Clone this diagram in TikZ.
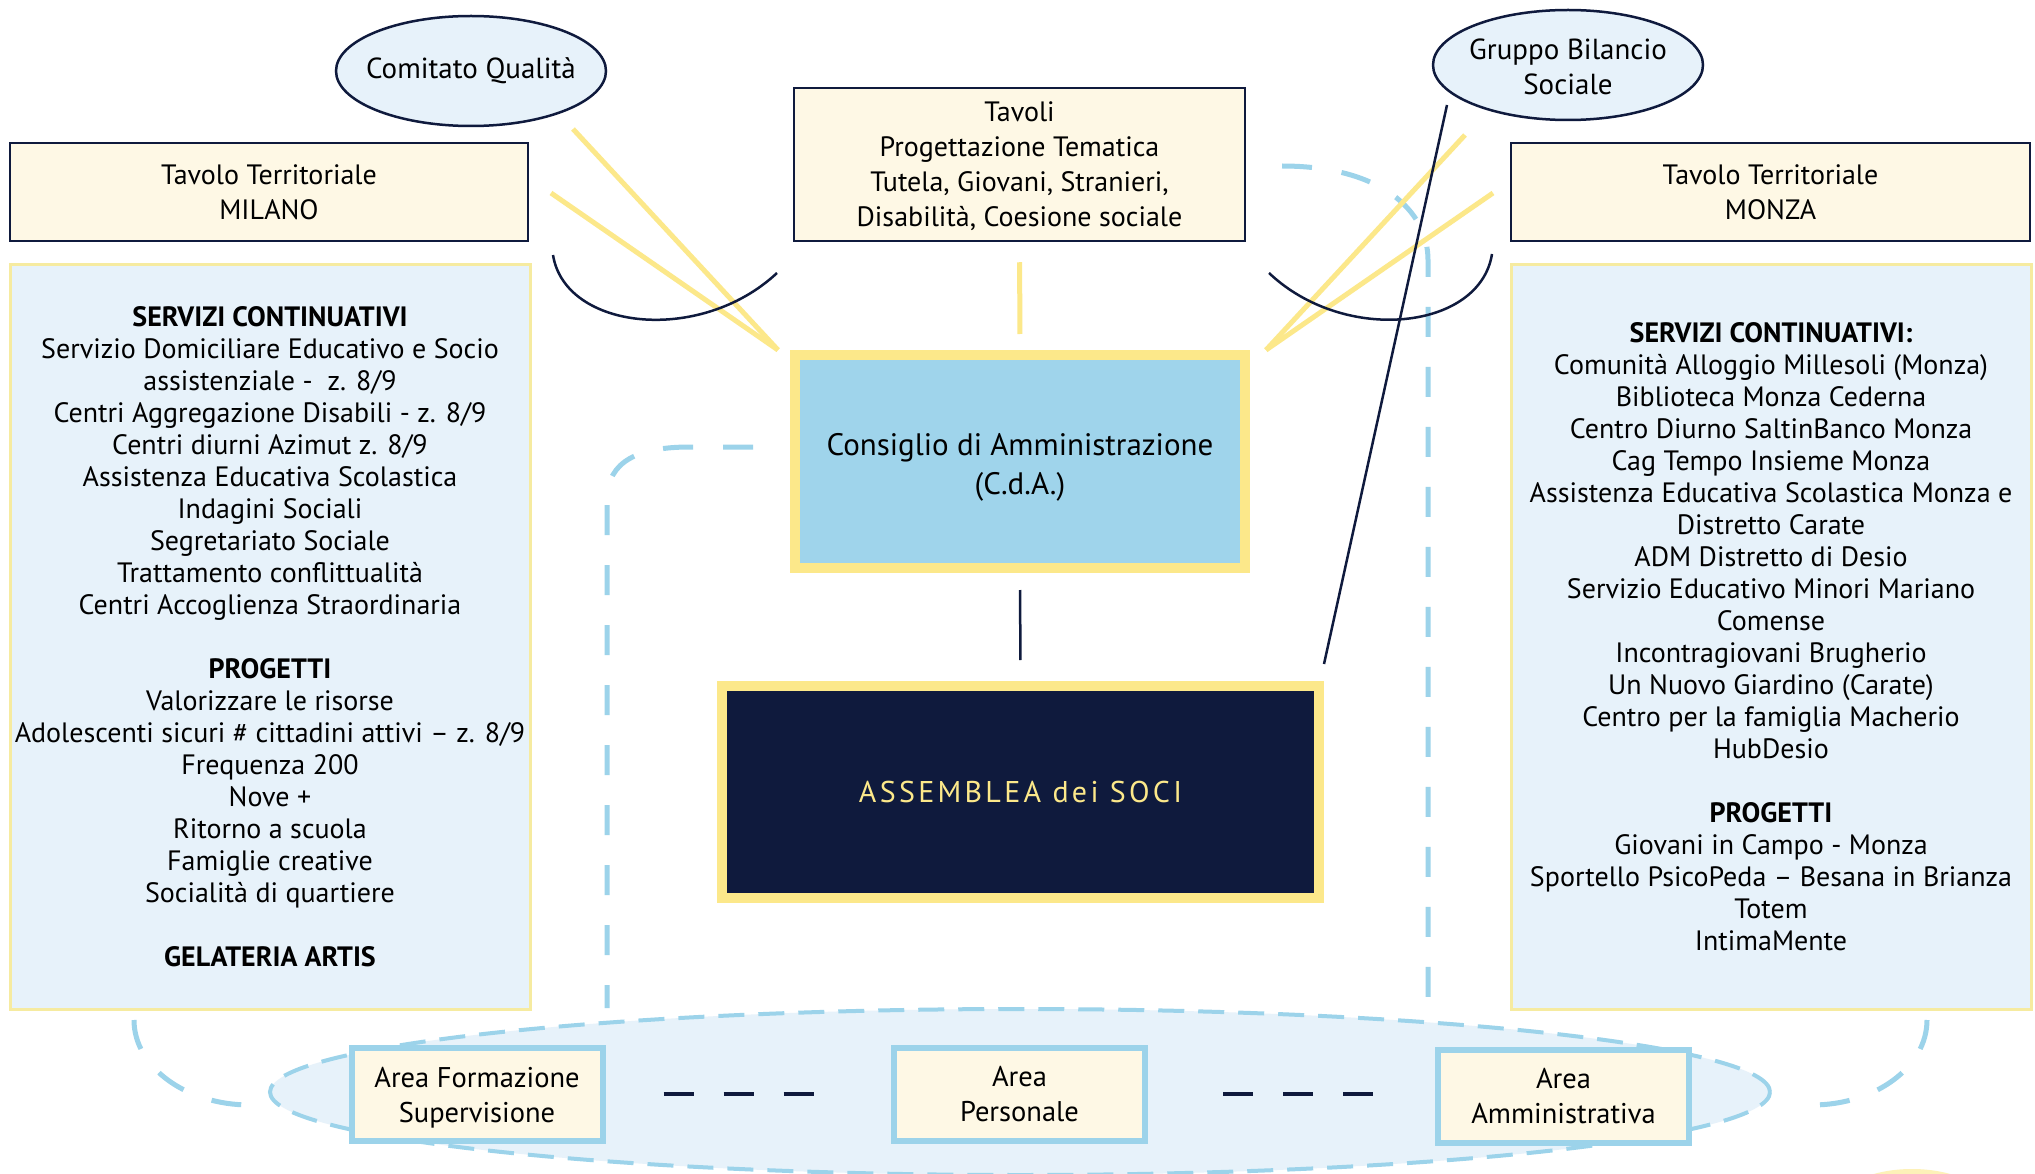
\documentclass[tikz,border=0pt]{standalone}
\usepackage{fontspec}
\setmainfont{PT Sans}
\usetikzlibrary{shapes.geometric}
\definecolor{navy}{HTML}{0F1A3D}
\definecolor{cream}{HTML}{FEF8E5}
\definecolor{lblue}{HTML}{E7F2FA}
\definecolor{cdab}{HTML}{9FD4EB}
\definecolor{ylw}{HTML}{FCE88A}
\definecolor{dblue}{HTML}{9CD3EA}
\definecolor{pyel}{HTML}{F6EBA0}
\definecolor{blob}{HTML}{FDF1B8}
\begin{document}
\begin{tikzpicture}[x=1pt,y=-1pt,
  topbox/.style={draw=navy, line width=2.5pt, fill=cream, inner sep=0pt, align=center, font=\fontsize{28}{35}\selectfont},
  listbox/.style={draw=pyel, line width=3pt, fill=lblue, inner sep=0pt, align=center, font=\fontsize{28}{32}\selectfont},
  bubble/.style={ellipse, draw=navy, line width=2.5pt, fill=lblue, inner sep=0pt, minimum width=270pt, minimum height=110pt},
  bubtext/.style={font=\fontsize{29}{35}\selectfont, align=center},
  areabox/.style={draw=dblue, line width=6pt, fill=cream, inner sep=0pt, align=center, font=\fontsize{28.5}{35}\selectfont, minimum width=251pt, minimum height=93pt},
  yline/.style={draw=ylw, line width=5pt},
  nline/.style={draw=navy, line width=2.5pt},
  bdash/.style={draw=dblue, line width=5pt, dash pattern=on 30pt off 30pt},
  ndash/.style={draw=navy, line width=4pt, dash pattern=on 30pt off 30pt}
]
\useasboundingbox (0,0) rectangle (2035,1174);
\fill[white] (0,0) rectangle (2035,1174);

% bottom decorations
\node[ellipse, fill=blob, minimum width=150pt, minimum height=72pt] (blobn) at (1912,1205) {};
\node[ellipse, draw=dblue, fill=lblue, line width=4pt, dash pattern=on 26pt off 14pt, minimum width=1500pt, minimum height=166pt] (areas) at (1020,1092) {};

% dashed blue frames
\draw[bdash] (753,447) -- (690,447) .. controls (640,447) and (607,460) .. (607,500) -- (607,1008);
\draw[bdash] (1282,166) .. controls (1380,166) and (1428,210) .. (1428,260) -- (1428,1008);
\draw[bdash] (134,1020) arc[start angle=180, end angle=90, x radius=116, y radius=85];
\draw[bdash] (1927,1020) arc[start angle=0, end angle=90, x radius=115, y radius=85];

% top nodes
\node[bubble, label={[bubtext]center:Comitato Qualità}] (cq) at (471,71) {};
\node[bubble, label={[bubtext, yshift=-2pt]center:Gruppo Bilancio\\Sociale}] (gbs) at (1568,65) {};
\node[topbox, minimum width=518pt, minimum height=98pt] (milano) at (269,192) {Tavolo Territoriale\\MILANO};
\node[topbox, minimum width=451pt, minimum height=153pt, text depth=0pt] (tavoli) at (1019.5,164.5) {Tavoli\\Progettazione Tematica\\Tutela, Giovani, Stranieri,\\Disabilità, Coesione sociale};
\node[topbox, minimum width=519pt, minimum height=98pt] (monza) at (1770.5,192) {Tavolo Territoriale\\MONZA};

% side lists
\node[listbox, minimum width=520pt, minimum height=745pt] (left) at (270,637) {\textbf{SERVIZI CONTINUATIVI}\\
Servizio Domiciliare Educativo e Socio\\
assistenziale -\ \ z. 8/9\\
Centri Aggregazione Disabili - z. 8/9\\
Centri diurni Azimut z. 8/9\\
Assistenza Educativa Scolastica\\
Indagini Sociali\\
Segretariato Sociale\\
Trattamento conflittualità\\
Centri Accoglienza Straordinaria\\[32pt]
\textbf{PROGETTI}\\
Valorizzare le risorse\\
Adolescenti sicuri \# cittadini attivi – z. 8/9\\
Frequenza 200\\
Nove +\\
Ritorno a scuola\\
Famiglie creative\\
Socialità di quartiere\\[32pt]
\textbf{GELATERIA ARTIS}};
\node[listbox, minimum width=520pt, minimum height=745pt] (right) at (1771,637) {\textbf{SERVIZI CONTINUATIVI:}\\
Comunità Alloggio Millesoli (Monza)\\
Biblioteca Monza Cederna\\
Centro Diurno SaltinBanco Monza\\
Cag Tempo Insieme Monza\\
Assistenza Educativa Scolastica Monza e\\
Distretto Carate\\
ADM Distretto di Desio\\
Servizio Educativo Minori Mariano\\
Comense\\
Incontragiovani Brugherio\\
Un Nuovo Giardino (Carate)\\
Centro per la famiglia Macherio\\
HubDesio\\[32pt]
\textbf{PROGETTI}\\
Giovani in Campo - Monza\\
Sportello PsicoPeda – Besana in Brianza\\
Totem\\
IntimaMente};

% centre
\node[draw=ylw, line width=10pt, fill=cdab, minimum width=450pt, minimum height=213pt, align=center, font=\fontsize{31}{39}\selectfont, label={[align=center, font=\fontsize{31}{39}\selectfont, yshift=-6pt]center:Consiglio di Amministrazione\\(C.d.A.)}] (cda) at (1020,461.5) {};
\node[draw=ylw, line width=10pt, fill=navy, minimum width=597pt, minimum height=212pt, text=ylw, font=\fontsize{30}{35}\selectfont\addfontfeature{LetterSpace=11}] (ass) at (1020.5,792) {ASSEMBLEA dei SOCI};

% areas
\node[areabox, label={[align=center, font=\fontsize{28.5}{35}\selectfont, yshift=-4pt]center:Area Formazione\\Supervisione}] (af) at (477,1094) {};
\node[areabox] (ap) at (1019.5,1094) {Area\\Personale};
\node[areabox] (aa) at (1563.5,1096) {Area\\Amministrativa};
\draw[ndash, shorten <=58pt, shorten >=74pt] (af.east) -- (ap.west);
\draw[ndash, shorten <=75pt, shorten >=58pt] (ap.east) -- (ap.east -| aa.west);

% connectors
\coordinate (yl) at (778,350);
\coordinate (yr) at (1266,350);
\coordinate (cqs) at (573,129);
\coordinate (mie) at (551,193);
\coordinate (gbs1) at (1465,135);
\coordinate (moe) at (1493,193);
\draw[yline] (cqs) -- (yl);
\draw[yline] (mie) -- (yl);
\draw[yline] (gbs1) -- (yr);
\draw[yline] (moe) -- (yr);
\draw[yline, shorten <=20pt, shorten >=16pt] (tavoli.south) -- (cda.north);
\draw[nline, shorten <=17pt, shorten >=21pt] (cda.south) -- (ass.north);
\coordinate (gl) at (1447,105);
\coordinate (ae) at (1324,664);
\draw[nline] (gl) -- (ae);
\coordinate (la1) at (553,255);
\coordinate (la2) at (777,273);
\draw[nline] (la1) .. controls (565,330) and (700,345) .. (la2);
\coordinate (ra1) at (1269,273);
\coordinate (ra2) at (1492,254);
\draw[nline] (ra1) .. controls (1345,345) and (1480,330) .. (ra2);
\end{tikzpicture}
\end{document}
